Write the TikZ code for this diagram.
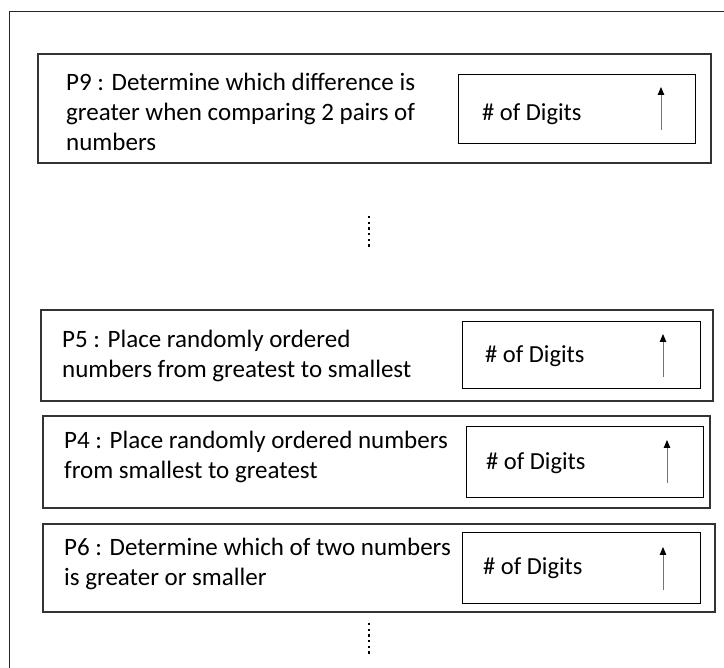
\documentclass[tikz,border=0pt]{standalone}
\usepackage{fontspec}
\setmainfont{Carlito}
\usetikzlibrary{arrows.meta}
\begin{document}
\begin{tikzpicture}[x=1pt,y=-1pt,
  frameline/.style={draw=black!85, line width=1.6pt},
  taskbox/.style={draw=black!80, line width=1.6pt, anchor=north west, inner sep=0pt},
  digitbox/.style={draw=black, line width=1.3pt, anchor=north west, inner sep=0pt},
  tasktext/.style={anchor=north west, inner sep=0pt, align=left,
    font=\fontsize{25}{30}\selectfont},
  digittext/.style={anchor=base west, inner sep=0pt,
    font=\fontsize{24.5}{30}\selectfont},
  uparrow/.style={draw=black!55, line width=0.9pt,
    -{Triangle[length=8pt,width=6.5pt,color=black]}},
  moredots/.style={draw=black, line width=2.2pt, dash pattern=on 2.2pt off 3.5pt}]
\useasboundingbox (0,0) rectangle (724,668);

% outer frame (open to the right and bottom)
\coordinate (frTR) at (730,11.5);
\coordinate (frTL) at (9.5,11.5);
\coordinate (frBL) at (9.5,675);
\draw[frameline] (frTR) -- (frTL) -- (frBL);

% P9
\node[taskbox, minimum width=673pt, minimum height=109pt] (p9) at (37,53) {};
\node[digitbox, minimum width=237pt, minimum height=69pt] (p9d) at (458,74) {};
\node[tasktext] (p9t) at (66,69) {\strut P9 : Determine which difference is\\greater when comparing 2 pairs of\\numbers};
\node[digittext] (p9n) at (482,121) {\# of Digits};
\coordinate (p9lo) at (661,130);
\coordinate (p9hi) at (661,87);
\draw[uparrow] (p9lo) -- (p9hi);

% ellipsis between P9 and P5
\coordinate (dotsAtop) at (369,216);
\coordinate (dotsAbot) at (369,250);
\draw[moredots] (dotsAtop) -- (dotsAbot);

% P5
\node[taskbox, minimum width=672pt, minimum height=91pt] (p5) at (40,309) {};
\node[digitbox, minimum width=238pt, minimum height=67pt] (p5d) at (462,321) {};
\node[tasktext] (p5t) at (62,326) {\strut P5 : Place randomly ordered\\numbers from greatest to smallest};
\node[digittext] (p5n) at (485,363) {\# of Digits};
\coordinate (p5lo) at (663,377);
\coordinate (p5hi) at (663,334);
\draw[uparrow] (p5lo) -- (p5hi);

% P4
\node[taskbox, minimum width=667pt, minimum height=92pt] (p4) at (42,415) {};
\node[digitbox, minimum width=237pt, minimum height=71pt] (p4d) at (466,426) {};
\node[tasktext] (p4t) at (64,427) {\strut P4 : Place randomly ordered numbers\\from smallest to greatest};
\node[digittext] (p4n) at (486,470) {\# of Digits};
\coordinate (p4lo) at (667,483);
\coordinate (p4hi) at (667,440);
\draw[uparrow] (p4lo) -- (p4hi);

% P6
\node[taskbox, minimum width=672pt, minimum height=88pt] (p6) at (42,523) {};
\node[digitbox, minimum width=238pt, minimum height=71pt] (p6d) at (462,532) {};
\node[tasktext] (p6t) at (64,534) {\strut P6 : Determine which of two numbers\\is greater or smaller};
\node[digittext] (p6n) at (483,575) {\# of Digits};
\coordinate (p6lo) at (663,590);
\coordinate (p6hi) at (663,547);
\draw[uparrow] (p6lo) -- (p6hi);

% ellipsis below P6
\coordinate (dotsBtop) at (369,623);
\coordinate (dotsBbot) at (369,657);
\draw[moredots] (dotsBtop) -- (dotsBbot);
\end{tikzpicture}
\end{document}
